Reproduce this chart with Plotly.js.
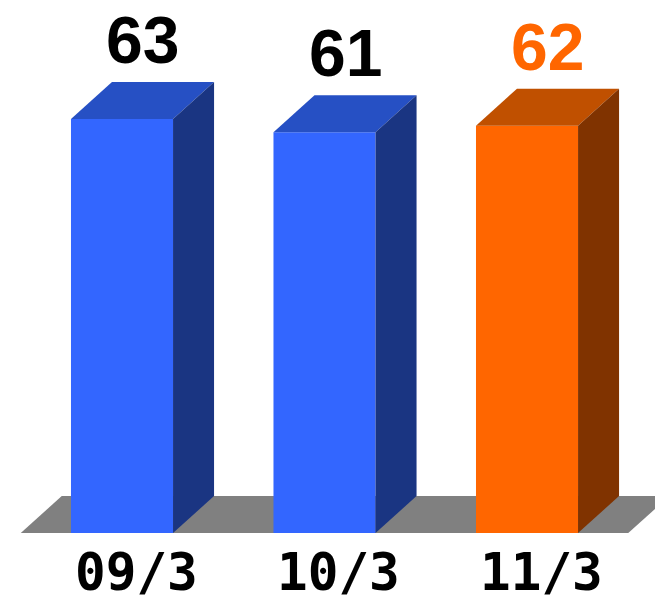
<!DOCTYPE html>
<html><head><meta charset="utf-8">
<script src="https://cdn.plot.ly/plotly-3.0.1.min.js"></script>
<style>html,body{margin:0;padding:0;background:#fff}#chart{width:655px;height:602px}</style>
</head><body><div id="chart"></div>
<script>
// Data
const categories = ['09/3', '10/3', '11/3'];
const values = [63, 61, 62];
const frontColors = ['#3366FF', '#3366FF', '#FF6600'];
const topColors = ['#2650C4', '#2650C4', '#C05000'];
const sideColors = ['#1A3582', '#1A3582', '#803300'];
const labelColors = ['#000000', '#000000', '#FF6600'];

// 3D geometry (in axis units)
const barW = 0.504, dx = 0.2025, dy = 5.63;
const xs = categories.map((c, i) => i);

const traces = [];
traces.push({
  type: 'bar', x: xs, y: values, width: barW,
  marker: {color: frontColors, line: {width: 0}},
  hoverinfo: 'skip', showlegend: false
});
xs.forEach((x, i) => {
  const v = values[i], l = x - barW / 2, r = x + barW / 2;
  traces.push({
    type: 'scatter', mode: 'lines', fill: 'toself',
    x: [l, l + dx, r + dx, r, l], y: [v, v + dy, v + dy, v, v],
    fillcolor: topColors[i], line: {width: 0},
    hoverinfo: 'skip', showlegend: false
  });
  traces.push({
    type: 'scatter', mode: 'lines', fill: 'toself',
    x: [r, r + dx, r + dx, r, r], y: [0, dy, v + dy, v, 0],
    fillcolor: sideColors[i], line: {width: 0},
    hoverinfo: 'skip', showlegend: false
  });
});

const fl = xs[0] - 0.5, fr = xs[xs.length - 1] + 0.5;
const floorPath = `M ${fl},0 L ${fr},0 L ${fr + dx},${dy} L ${fl + dx},${dy} Z`;

const annotations = [];
xs.forEach((x, i) => {
  annotations.push({
    x: x + dx / 2, y: values[i] + dy, xref: 'x', yref: 'y',
    text: String(values[i]), showarrow: false, yanchor: 'bottom', yshift: 3,
    font: {family: 'Liberation Sans, Arial, sans-serif', size: 66, weight: 'bold', color: labelColors[i]}
  });
  annotations.push({
    x: x + 0.07, y: 0, xref: 'x', yref: 'y',
    text: categories[i], showarrow: false, yanchor: 'top', yshift: -8,
    font: {family: 'DejaVu Sans Mono, monospace', size: 51, weight: 'bold', color: '#000000'}
  });
});

const layout = {
  width: 655, height: 602,
  margin: {l: 0, r: 0, t: 0, b: 0},
  paper_bgcolor: '#ffffff', plot_bgcolor: '#ffffff',
  xaxis: {range: [-0.6025, 2.632], visible: false, fixedrange: true},
  yaxis: {range: [-10.50, 81.13], visible: false, fixedrange: true},
  shapes: [{type: 'path', path: floorPath, xref: 'x', yref: 'y', fillcolor: '#808080', line: {width: 0}, layer: 'below'}],
  annotations: annotations,
  showlegend: false
};

Plotly.newPlot('chart', traces, layout, {displayModeBar: false, staticPlot: true});
</script>
</body></html>
